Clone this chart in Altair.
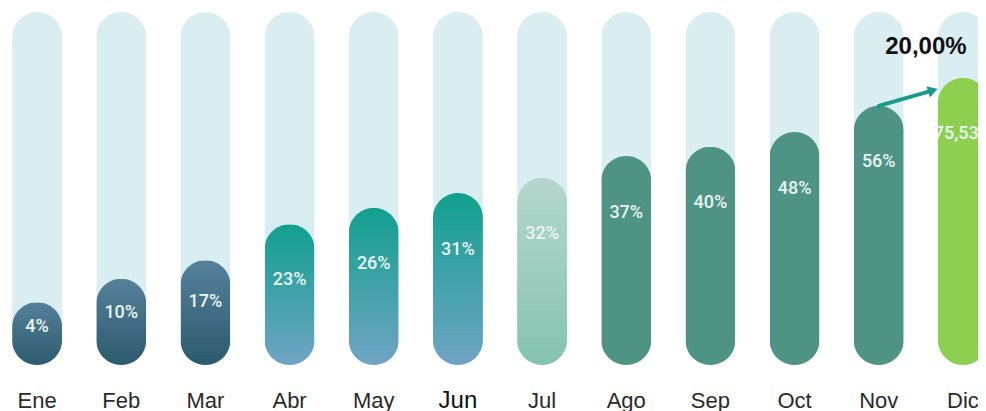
import altair as alt
import pandas as pd

# ---- data ----
meses = ["Ene", "Feb", "Mar", "Abr", "May", "Jun", "Jul", "Ago", "Sep", "Oct", "Nov", "Dic"]
etiquetas = ["4%", "10%", "17%", "23%", "26%", "31%", "32%", "37%", "40%", "48%", "56%", "75,53%"]
# visual fill level of each pill (% of the track)
nivel = [17.8, 24.4, 29.7, 39.9, 44.5, 48.7, 53.0, 59.2, 61.8, 66.0, 73.4, 81.3]
variacion = "20,00%"

grupo_azul = ["Ene", "Feb", "Mar"]
grupo_turquesa = ["Abr", "May", "Jun"]
grupo_claro = ["Jul"]
grupo_verde = ["Ago", "Sep", "Oct", "Nov"]
grupo_lima = ["Dic"]

df = pd.DataFrame({"mes": meses, "etiqueta": etiquetas, "nivel": nivel, "total": [100] * len(meses)})
arrow_df = pd.DataFrame({
    "mes": [meses[10]], "mes2": [meses[11]],
    "y1": [nivel[10]], "y2": [nivel[11]], "variacion": [variacion],
})

# ---- scales ----
xscale = alt.Scale(domain=meses, range=[-13, 997], paddingInner=0, paddingOuter=0)
yscale = alt.Scale(domain=[0, 100], range=[357, 4])
xaxis = alt.Axis(
    title=None, domain=False, ticks=False, grid=False, labelAngle=0,
    labelPadding=38, labelBaseline="alphabetic", labelFont="Liberation Sans",
    labelFontSize={"condition": {"test": "datum.value === 'Jun'", "value": 24}, "value": 22},
    labelColor={"condition": {"test": "datum.value === 'Jun'", "value": "#111111"}, "value": "#2a2a2a"},
)
X = alt.X("mes:N", sort=meses, scale=xscale, axis=xaxis)


def grad(top, bottom):
    return alt.Gradient(
        gradient="linear",
        stops=[alt.GradientStop(color=top, offset=0), alt.GradientStop(color=bottom, offset=1)],
        x1=0, x2=0, y1=0, y2=1,
    )


base = alt.Chart(df).encode(x=X)

track = base.mark_bar(width=50, cornerRadius=25, color="#DAEEF1").encode(
    y=alt.Y("total:Q", scale=yscale, axis=None)
)


def pills(group, color):
    return base.transform_filter(
        alt.FieldOneOfPredicate(field="mes", oneOf=group)
    ).mark_bar(width=50, cornerRadius=25, color=color).encode(
        y=alt.Y("nivel:Q", scale=yscale, axis=None)
    )


layers = [
    track,
    pills(grupo_azul, grad("#55819B", "#2C5A6D")),
    pills(grupo_turquesa, grad("#12A08F", "#70A4C4")),
    pills(grupo_claro, grad("#B5D6CF", "#84C3B1")),
    pills(grupo_verde, "#4E9383"),
    pills(grupo_lima, "#8DCF4F"),
]

labels = base.transform_calculate(
    pos="max(datum.nivel - 16, datum.nivel * 0.6)"
).mark_text(font="Roboto", fontSize=18, fontWeight=500, color="#E8F4F2", baseline="middle").encode(
    y=alt.Y("pos:Q", scale=yscale, axis=None), text="etiqueta:N"
)

arrow_base = alt.Chart(arrow_df).transform_calculate(yf="datum.y2 - 3.5")

rule = arrow_base.mark_rule(strokeWidth=4, color="#1B9A8A", x2Offset=-30, strokeCap="round").encode(
    x=X, x2="mes2:N",
    y=alt.Y("y1:Q", scale=yscale, axis=None), y2="yf:Q",
)
head = arrow_base.mark_point(
    shape="triangle-right", size=130, filled=True, color="#1B9A8A", opacity=1, angle=343, xOffset=-30
).encode(
    x=alt.X("mes2:N", sort=meses, scale=xscale, axis=xaxis),
    y=alt.Y("yf:Q", scale=yscale, axis=None),
)
note = alt.Chart(arrow_df).mark_text(
    font="Liberation Sans", fontSize=24, fontWeight="bold", color="#111111",
    dx=-37, dy=-31, baseline="middle",
).encode(
    x=alt.X("mes2:N", sort=meses, scale=xscale, axis=xaxis),
    y=alt.Y("y2:Q", scale=yscale, axis=None),
    text="variacion:N",
)

chart = alt.layer(*layers, labels, rule, head, note).properties(
    width=970, height=361,
    autosize=alt.AutoSizeParams(type="none"),
    padding={"left": 0, "right": 0, "top": 0, "bottom": 42},
    background="white",
).configure_view(stroke=None)

chart.save("out.html", embed_options={"renderer": "svg", "actions": False})
